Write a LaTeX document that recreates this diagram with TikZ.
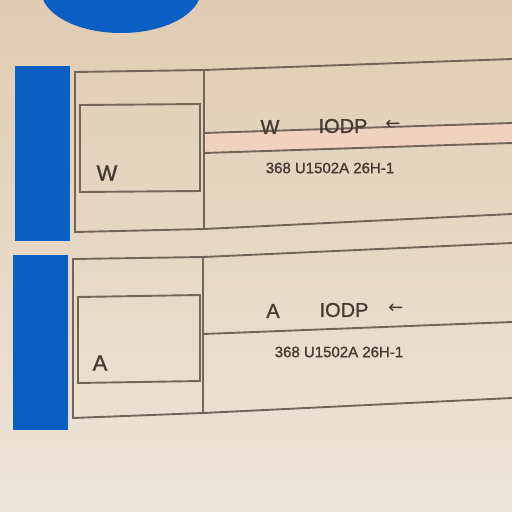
\documentclass[tikz,border=0pt]{standalone}
\usepackage{fontspec}
\setmainfont{Liberation Sans}
\newfontfamily\boldishfont[FakeBold=1.2]{Liberation Sans}
\newfontfamily\arrowfont{DejaVu Sans}
\definecolor{paper}{HTML}{E0CCB3}
\definecolor{paperlight}{HTML}{EEE4D8}
\definecolor{labelblue}{HTML}{0B5EC2}
\definecolor{rule}{HTML}{74655A}
\definecolor{ink}{HTML}{463A32}
\definecolor{band}{HTML}{F1D1C0}
\begin{document}
\begin{tikzpicture}[x=1pt,y=-1pt,
  ruleline/.style={draw=rule,line width=1.9pt},
  bigtxt/.style={text=ink,font=\boldishfont\fontsize{20}{22}\selectfont,inner sep=0pt},
  smalltxt/.style={text=ink,font=\boldishfont\fontsize{15}{17}\selectfont,inner sep=0pt},
  arrowtxt/.style={text=ink,font=\arrowfont\fontsize{18}{20}\selectfont,inner sep=0pt}]
\useasboundingbox (0,0) rectangle (512,512);
\shade[top color=paper,bottom color=paperlight] (0,0) rectangle (512,512);
% top blue disc
\fill[labelblue] (121,-10) ellipse [x radius=80,y radius=43];
% ===== block W =====
\fill[labelblue] (15,66) rectangle (70,241);
\fill[band] (204,133) -- (512,123) -- (512,143) -- (204,153) -- cycle;
\coordinate (wTL) at (75,72);
\coordinate (wTM) at (204,70);
\coordinate (wTR) at (512,59);
\coordinate (wBL) at (75,232);
\coordinate (wBM) at (204,229);
\coordinate (wBR) at (512,214);
\draw[ruleline] (wTR) -- (wTM) -- (wTL) -- (wBL) -- (wBM) -- (wBR);
\draw[ruleline] (wTM) -- (wBM);
\draw[ruleline] (80,105) -- (200,104) -- (200,191) -- (80,192) -- cycle;
\draw[ruleline] (204,133) -- (512,123);
\draw[ruleline] (204,153) -- (512,143);
\node[bigtxt,font=\boldishfont\fontsize{22}{24}\selectfont] (wleft) at (107,173) {W};
\node[bigtxt] (wright) at (270,127) {W};
\node[bigtxt] (wiodp) at (343,126) {IODP};
\node[arrowtxt] (warrow) at (393,125) {←};
\node[smalltxt] (wcode) at (330,168) {368 U1502A 26H-1};
% ===== block A =====
\fill[labelblue] (13,255) rectangle (68,430);
\coordinate (aTL) at (73,259);
\coordinate (aTM) at (203,257);
\coordinate (aTR) at (512,243);
\coordinate (aBL) at (73,418);
\coordinate (aBM) at (203,413);
\coordinate (aBR) at (512,398);
\draw[ruleline] (aTR) -- (aTM) -- (aTL) -- (aBL) -- (aBM) -- (aBR);
\draw[ruleline] (aTM) -- (aBM);
\draw[ruleline] (78,297) -- (200,295) -- (200,381) -- (78,383) -- cycle;
\draw[ruleline] (203,334) -- (512,322);
\node[bigtxt,font=\boldishfont\fontsize{22}{24}\selectfont] (aleft) at (100,363) {A};
\node[bigtxt] (aright) at (273,311) {A};
\node[bigtxt] (aiodp) at (344,310) {IODP};
\node[arrowtxt] (aarrow) at (396,309) {←};
\node[smalltxt] (acode) at (339,352) {368 U1502A 26H-1};
\end{tikzpicture}
\end{document}
